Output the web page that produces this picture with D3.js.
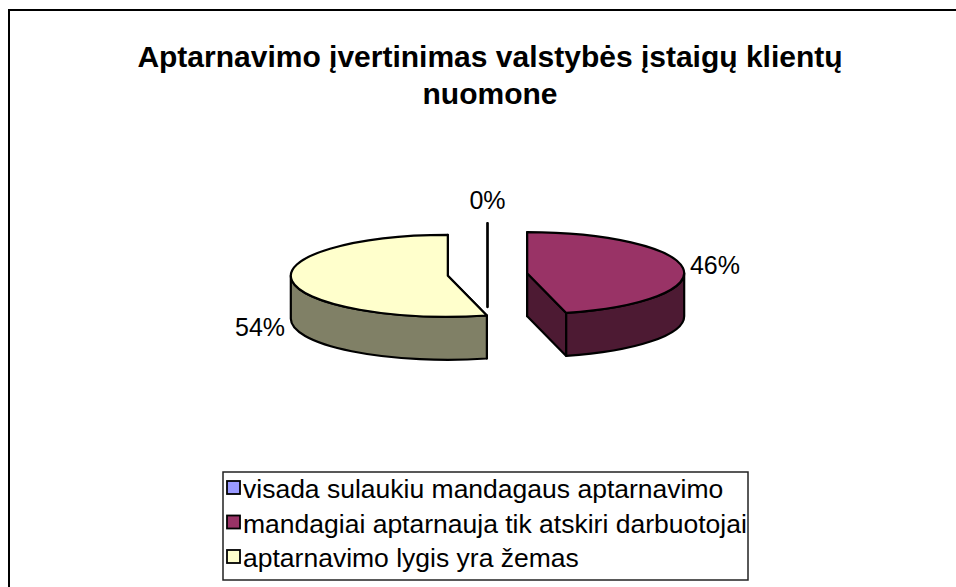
<!DOCTYPE html>
<html>
<head>
<meta charset="utf-8">
<script src="https://cdn.jsdelivr.net/npm/d3@7/dist/d3.min.js"></script>
<style>
  body { margin: 0; background: #fff; }
  svg { display: block; font-family: Arial, "Liberation Sans", sans-serif; }
</style>
</head>
<body>
<svg id="chart" width="956" height="587"></svg>
<script>
// data
var categories = ["visada sulaukiu mandagaus aptarnavimo",
                  "mandagiai aptarnauja tik atskiri darbuotojai",
                  "aptarnavimo lygis yra žemas"];
var values = [0, 46, 54];
var labels = ["0%", "46%", "54%"];
var titleLines = ["Aptarnavimo įvertinimas valstybės įstaigų klientų", "nuomone"];
var topColors = ["#9999FF", "#993366", "#FFFFCC"];
var sideColors = ["#4D4D80", "#4D1A33", "#808066"];

var W = 956, H = 587;
var cx = 487.5, cy = 274.5;   // pie centre
var rx = 157, ry = 41;        // ellipse radii of the top face
var depth = 43;               // wall height
var explode = 40;

var svg = d3.select("#chart");

// chart frame (cropped on right and bottom)
svg.append("rect")
  .attr("x", 9).attr("y", 10)
  .attr("width", 980).attr("height", 620)
  .attr("fill", "#fff").attr("stroke", "#000").attr("stroke-width", 2);

// title
svg.append("g").selectAll("text")
  .data(titleLines).enter().append("text")
  .attr("x", 490)
  .attr("y", function(d, i) { return 67 + i * 37; })
  .attr("text-anchor", "middle")
  .attr("font-size", 30).attr("font-weight", "bold")
  .text(function(d) { return d; });

var pie = d3.pie().sort(null).value(function(d) { return d; });
var arcs = pie(values);

var color = d3.scaleOrdinal().domain(categories).range(topColors);
var side = d3.scaleOrdinal().domain(categories).range(sideColors);

arcs.forEach(function(d, i) {
  var mid = (d.startAngle + d.endAngle) / 2;
  d.sx = cx + explode * Math.sin(mid);
  d.sy = cy - explode * Math.cos(mid) * ry / rx;
  d.mid = mid;
  d.name = categories[i];
});

function pt(d, a, z) {
  return [d.sx + rx * Math.sin(a), d.sy - ry * Math.cos(a) + (z || 0)];
}
function radial(d, a) {
  var p = pt(d, a), q = pt(d, a, depth);
  return "M" + d.sx + "," + d.sy + "L" + p + "L" + q + "L" + d.sx + "," + (d.sy + depth) + "Z";
}
function topFace(d) {
  var p0 = pt(d, d.startAngle), p1 = pt(d, d.endAngle);
  var large = (d.endAngle - d.startAngle) > Math.PI ? 1 : 0;
  return "M" + d.sx + "," + d.sy + "L" + p0 +
    "A" + rx + "," + ry + " 0 " + large + " 1 " + p1 + "Z";
}
function wall(d) {
  var b0 = Math.max(d.startAngle, Math.PI / 2), b1 = Math.min(d.endAngle, 3 * Math.PI / 2);
  if (b1 <= b0) return null;
  var large = (b1 - b0) > Math.PI ? 1 : 0;
  return "M" + pt(d, b0) + "A" + rx + "," + ry + " 0 " + large + " 1 " + pt(d, b1) +
    "L" + pt(d, b1, depth) + "A" + rx + "," + ry + " 0 " + large + " 0 " + pt(d, b0, depth) + "Z";
}

var g = svg.append("g")
  .attr("stroke", "#000").attr("stroke-width", 2.2).attr("stroke-linejoin", "round");

// radial faces first
arcs.forEach(function(d) {
  [d.startAngle, d.endAngle].forEach(function(a) {
    g.append("path").attr("d", radial(d, a)).attr("fill", side(d.name));
  });
});
// outer walls
arcs.forEach(function(d) {
  var w = wall(d);
  if (w) g.append("path").attr("d", w).attr("fill", side(d.name));
});
// top faces
arcs.forEach(function(d) {
  if (d.endAngle > d.startAngle)
    g.append("path").attr("d", topFace(d)).attr("fill", color(d.name));
});

// data labels
svg.append("g").selectAll("text")
  .data(arcs).enter().append("text")
  .attr("font-size", 25)
  .attr("dominant-baseline", "central")
  .attr("x", function(d) {
    var s = Math.sin(d.mid);
    return d.sx + (rx + 7) * s;
  })
  .attr("y", function(d) {
    var s = Math.sin(d.mid);
    return d.sy - (ry + 23) * Math.cos(d.mid) + (s < -0.5 ? depth : 0);
  })
  .attr("text-anchor", function(d) {
    var s = Math.sin(d.mid);
    return s > 0.1 ? "start" : (s < -0.1 ? "end" : "middle");
  })
  .text(function(d, i) { return labels[i]; });

// legend
var lg = svg.append("g");
lg.append("rect")
  .attr("x", 223).attr("y", 472).attr("width", 525).attr("height", 108)
  .attr("fill", "#fff").attr("stroke", "#222").attr("stroke-width", 1.5);

var rowY = d3.scalePoint().domain(categories).range([488, 557]);
var item = lg.selectAll("g.item").data(categories).enter().append("g")
  .attr("class", "item")
  .attr("transform", function(d) { return "translate(0," + rowY(d) + ")"; });
item.append("rect")
  .attr("x", 227).attr("y", -7).attr("width", 13).attr("height", 13)
  .attr("fill", function(d) { return color(d); })
  .attr("stroke", "#000").attr("stroke-width", 1.8);
item.append("text")
  .attr("x", 243).attr("y", 1)
  .attr("dominant-baseline", "central")
  .attr("font-size", 26.5)
  .text(function(d) { return d; });
</script>
</body>
</html>
